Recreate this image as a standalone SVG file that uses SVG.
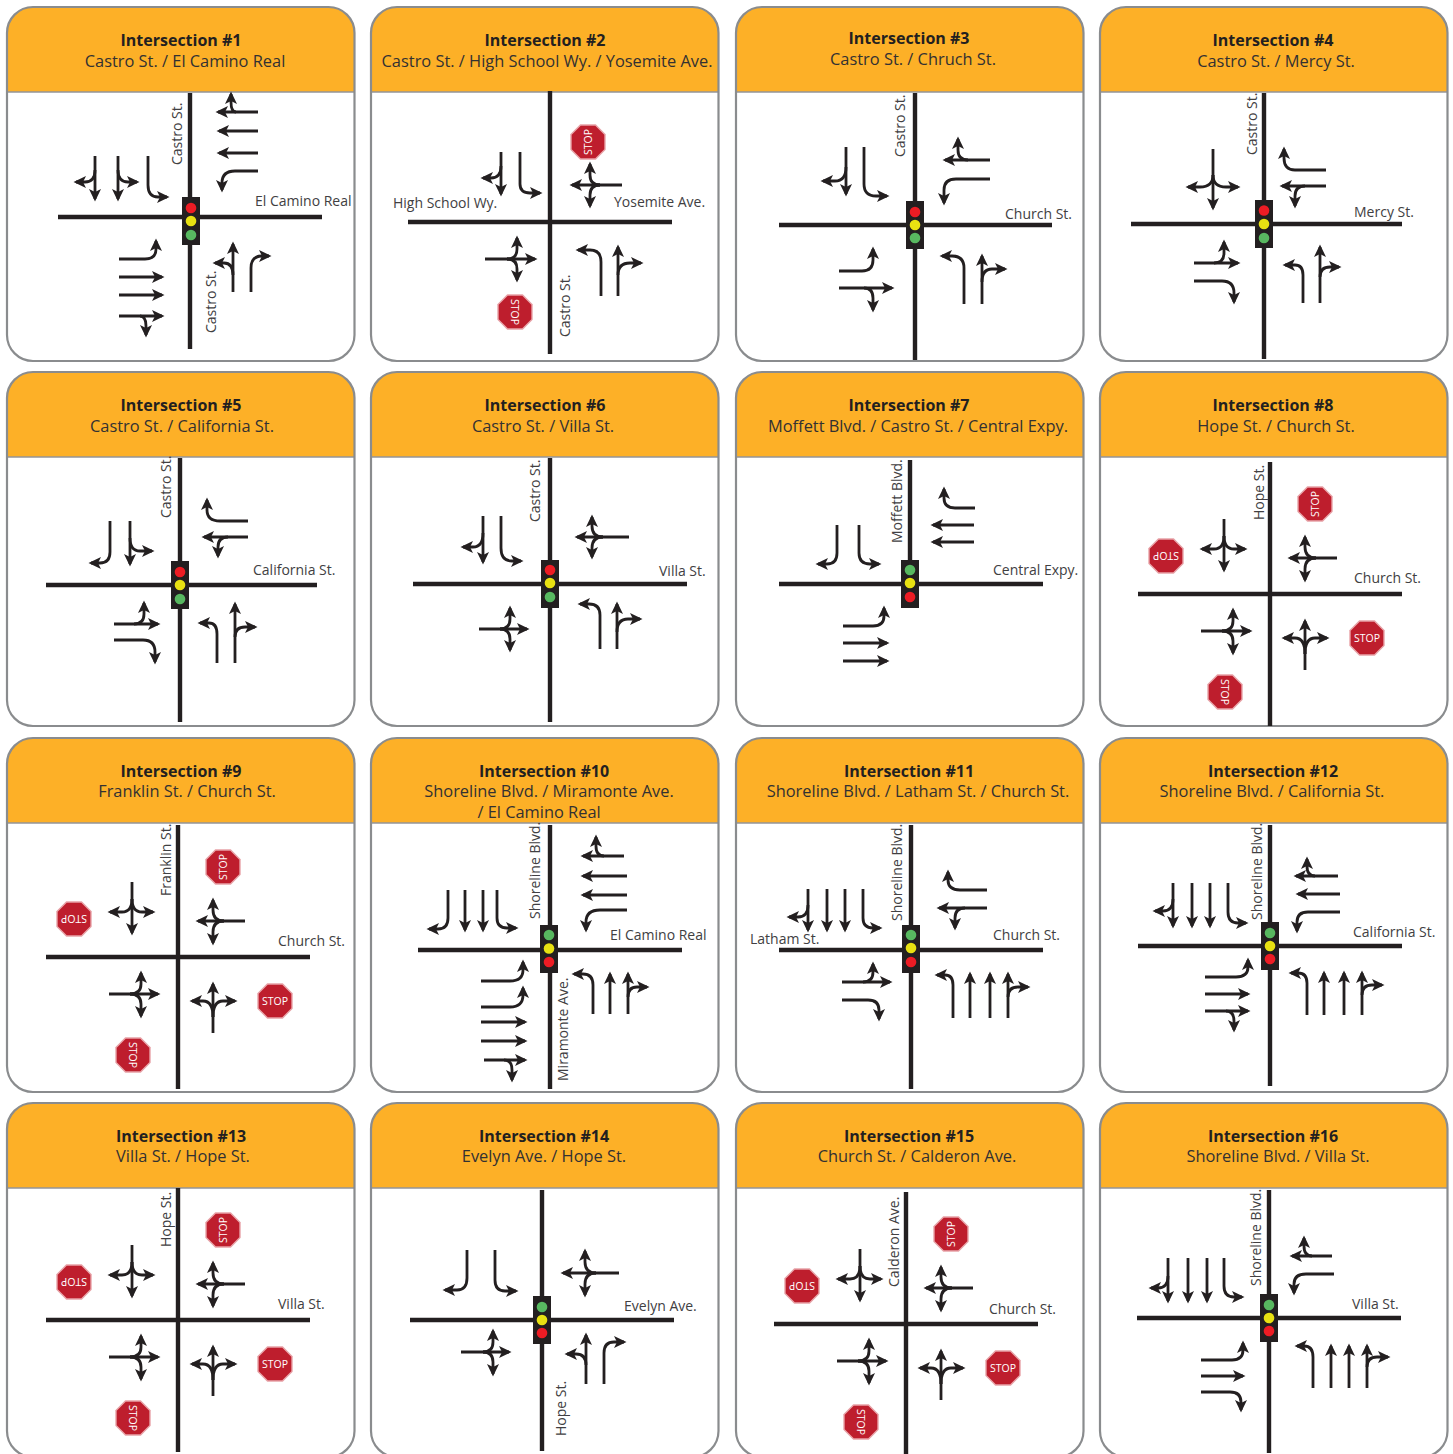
<svg xmlns="http://www.w3.org/2000/svg" width="1453" height="1454" viewBox="0 0 1453 1454">
<style>
text{font-family:"Open Sans","Noto Sans","Liberation Sans",sans-serif}
.t{font-size:16px;font-weight:700;fill:#231f20;text-anchor:middle}
.s{font-size:16.4px;fill:#333132;text-anchor:middle}
.l{font-size:14px;fill:#414042}
.r{stroke:#231f20;stroke-width:4.4;fill:none}
.a{stroke:#231f20;stroke-width:2.8;fill:none;marker-end:url(#h)}
.sg{fill:#231f20}
.R{fill:#ed1c24}.Y{fill:#e8e112}.G{fill:#58b860}
circle{r:5.300px}
.st{font-size:10.5px;fill:#fff;text-anchor:middle}
</style>
<defs>
<marker id="h" markerUnits="userSpaceOnUse" markerWidth="16" markerHeight="16" viewBox="-13 -8 16 16" refX="0" refY="0" orient="auto"><path d="M-10,-6L2.500,0L-10,6L-7,0Z" fill="#231f20"/></marker>
<g id="panel"><rect width="347.500" height="354" rx="26" fill="#fff"/><path d="M0,85V26A26,26 0 0 1 26,0H321.500A26,26 0 0 1 347.500,26V85Z" fill="#fdb027"/><path d="M0,85H347.500" stroke="#939598" stroke-width="1.5"/><rect width="347.500" height="354" rx="26" fill="none" stroke="#8a8c8e" stroke-width="2.2"/></g>
<polygon id="oct" points="-7.5,-17 7.5,-17 17,-7.5 17,7.5 7.5,17 -7.5,17 -17,7.5 -17,-7.5" fill="#be1e2d" stroke="#e8a3a8" stroke-width="1.4"/>
<g id="four">
<path class="r" d="M0,-132V132M-132,0H132"/>
<path class="a" d="M-46,-75V-24"/><path class="a" d="M-46,-58Q-46,-45 -56,-45H-68"/><path class="a" d="M-46,-58Q-46,-45 -36,-45H-25"/>
<path class="a" d="M67,-36H20"/><path class="a" d="M46,-36Q35,-36 35,-47V-57"/><path class="a" d="M46,-36Q35,-36 35,-25V-14"/>
<path class="a" d="M-69,37H-20"/><path class="a" d="M-48,37Q-37,37 -37,27V16"/><path class="a" d="M-48,37Q-37,37 -37,47V59"/>
<path class="a" d="M35,76V27"/><path class="a" d="M35,60Q35,44 25,44H14"/><path class="a" d="M35,60Q35,44 45,44H57"/>
</g>
</defs>

<g id="intersection-1">
<use href="#panel" x="7" y="7"/>
<text class="t" x="181" y="46">Intersection #1</text><text class="s" x="185" y="67">Castro St. / El Camino Real</text>
<path class="r" d="M190,93V349M58,217H322"/>
<rect class="sg" x="182" y="197" width="18" height="48"/><circle class="R" cx="191" cy="208" r="5"/><circle class="Y" cx="191" cy="221" r="5"/><circle class="G" cx="191" cy="235" r="5"/>
<path class="a" d="M95,156V199"/><path class="a" d="M95,170Q95,182 85,182H76"/>
<path class="a" d="M118,156V199"/><path class="a" d="M118,170Q118,182 128,182H137"/>
<path class="a" d="M148,156V185Q148,197 158,197H167"/>
<path class="a" d="M258,112H218"/><path class="a" d="M236,112Q231,112 231,102V94"/>
<path class="a" d="M258,131H219"/><path class="a" d="M258,153H219"/>
<path class="a" d="M258,171H235Q222,171 222,183V190"/>
<path class="a" d="M119,259H145Q156,259 156,249V241"/><path class="a" d="M119,277H162"/><path class="a" d="M119,295H162"/><path class="a" d="M119,316H162"/><path class="a" d="M140,316Q146,316 146,326V335"/>
<path class="a" d="M233,292V244"/><path class="a" d="M233,275Q233,263 224,263H215"/>
<path class="a" d="M251,292V268Q251,256 262,256H269"/>
<text class="l" transform="translate(182,165) rotate(-90)">Castro St.</text><text class="l" transform="translate(216,333) rotate(-90)">Castro St.</text><text class="l" x="255" y="206">El Camino Real</text>
</g>

<g id="intersection-2">
<use href="#panel" x="371" y="7"/>
<text class="t" x="545" y="46">Intersection #2</text><text class="s" x="547" y="67">Castro St. / High School Wy. / Yosemite Ave.</text>
<path class="r" d="M550,91V354M408,222H672"/>
<g transform="translate(588,142) rotate(-90)"><use href="#oct"/><text class="st" y="3.7">STOP</text></g>
<g transform="translate(515,312) rotate(90)"><use href="#oct"/><text class="st" y="3.7">STOP</text></g>
<path class="a" d="M501,152V194"/><path class="a" d="M501,166Q501,178 491,178H483"/>
<path class="a" d="M520,152V184Q520,193 530,193H540"/>
<path class="a" d="M622,185H572"/><path class="a" d="M600,185Q590,185 590,175V164"/><path class="a" d="M600,185Q590,185 590,195V206"/>
<path class="a" d="M485,259H535"/><path class="a" d="M507,259Q517,259 517,249V238"/><path class="a" d="M507,259Q517,259 517,269V280"/>
<path class="a" d="M601,296V262Q601,250 590,250H578"/>
<path class="a" d="M618,296V247"/><path class="a" d="M618,275Q618,263 630,263H641"/>
<text class="l" x="393" y="208">High School Wy.</text><text class="l" x="614" y="207">Yosemite Ave.</text><text class="l" transform="translate(570,337) rotate(-90)">Castro St.</text>
</g>

<g id="intersection-3">
<use href="#panel" x="736" y="7"/>
<text class="t" x="909" y="44">Intersection #3</text><text class="s" x="913" y="65">Castro St. / Chruch St.</text>
<path class="r" d="M915,93V360M779,225H1052"/>
<rect class="sg" x="906" y="201" width="18" height="48"/><circle class="R" cx="915" cy="212" r="5"/><circle class="Y" cx="915" cy="225" r="5"/><circle class="G" cx="915" cy="238" r="5"/>
<path class="a" d="M846,147V194"/><path class="a" d="M846,167Q846,181 835,181H823"/>
<path class="a" d="M864,147V184Q864,196 876,196H887"/>
<path class="a" d="M990,160H945"/><path class="a" d="M968,160Q958,160 958,150V139"/>
<path class="a" d="M990,179H956Q944,179 944,190V203"/>
<path class="a" d="M839,271H862Q873,271 873,260V249"/>
<path class="a" d="M839,288H892"/><path class="a" d="M864,288Q873,288 873,298V310"/>
<path class="a" d="M964,304V268Q964,256 952,256H942"/>
<path class="a" d="M982,304V256"/><path class="a" d="M982,282Q982,269 992,269H1005"/>
<text class="l" transform="translate(905,157) rotate(-90)">Castro St.</text><text class="l" x="1005" y="219">Church St.</text>
</g>

<g id="intersection-4">
<use href="#panel" x="1100" y="7"/>
<text class="t" x="1273" y="46">Intersection #4</text><text class="s" x="1276" y="67">Castro St. / Mercy St.</text>
<path class="r" d="M1264,93V359M1131,224H1402"/>
<rect class="sg" x="1255" y="200" width="18" height="48"/><circle class="R" cx="1264" cy="210.500" r="5"/><circle class="Y" cx="1264" cy="224" r="5"/><circle class="G" cx="1264" cy="238" r="5"/>
<path class="a" d="M1213,149V208"/><path class="a" d="M1213,175Q1213,187 1200,187H1188"/><path class="a" d="M1213,175Q1213,187 1226,187H1238"/>
<path class="a" d="M1326,170H1295Q1284,170 1284,158V149"/>
<path class="a" d="M1326,186H1282"/><path class="a" d="M1305,186Q1295,186 1295,196V206"/>
<path class="a" d="M1194,263H1238"/><path class="a" d="M1214,263Q1224,263 1224,253V242"/>
<path class="a" d="M1194,281H1222Q1234,281 1234,293V302"/>
<path class="a" d="M1303,303V275Q1303,265 1295,265H1285"/>
<path class="a" d="M1320,303V247"/><path class="a" d="M1320,277Q1320,267 1330,267H1339"/>
<text class="l" transform="translate(1257,155) rotate(-90)">Castro St.</text><text class="l" x="1354" y="217">Mercy St.</text>
</g>

<g id="intersection-5">
<use href="#panel" x="7" y="372"/>
<text class="t" x="181" y="411">Intersection #5</text><text class="s" x="182" y="432">Castro St. / California St.</text>
<path class="r" d="M180,458V722M46,585H317"/>
<rect class="sg" x="171" y="561" width="18" height="48"/><circle class="R" cx="180" cy="572" r="5"/><circle class="Y" cx="180" cy="585" r="5"/><circle class="G" cx="180" cy="599" r="5"/>
<path class="a" d="M110,521V552Q110,563 100,563H91"/>
<path class="a" d="M130,521V564"/><path class="a" d="M130,538Q130,551 140,551H152"/>
<path class="a" d="M248,521H220Q207,521 207,510V500"/>
<path class="a" d="M248,537H204"/><path class="a" d="M228,537Q218,537 218,547V556"/>
<path class="a" d="M114,624H158"/><path class="a" d="M134,624Q144,624 144,614V603"/>
<path class="a" d="M114,640H143Q155,640 155,652V662"/>
<path class="a" d="M217,663V634Q217,623 209,623H200"/>
<path class="a" d="M235,663V604"/><path class="a" d="M235,637Q235,627 245,627H255"/>
<text class="l" transform="translate(171,518) rotate(-90)">Castro St.</text><text class="l" x="253" y="575">California St.</text>
</g>

<g id="intersection-6">
<use href="#panel" x="371" y="372"/>
<text class="t" x="545" y="411">Intersection #6</text><text class="s" x="543" y="432">Castro St. / Villa St.</text>
<path class="r" d="M550,458V722M413,584H687"/>
<rect class="sg" x="541" y="560" width="18" height="48"/><circle class="R" cx="550" cy="570" r="5"/><circle class="Y" cx="550" cy="583" r="5"/><circle class="G" cx="550" cy="597" r="5"/>
<path class="a" d="M483,516V562"/><path class="a" d="M483,533Q483,547 473,547H463"/>
<path class="a" d="M501,516V548Q501,561 512,561H521"/>
<path class="a" d="M629,537H577"/><path class="a" d="M603,537Q592,537 592,526V517"/><path class="a" d="M603,537Q592,537 592,548V557"/>
<path class="a" d="M479,629H527"/><path class="a" d="M500,629Q510,629 510,619V608"/><path class="a" d="M500,629Q510,629 510,639V650"/>
<path class="a" d="M600,649V615Q600,604 589,604H580"/>
<path class="a" d="M617,649V604"/><path class="a" d="M617,632Q617,619 628,619H640"/>
<text class="l" transform="translate(540,522) rotate(-90)">Castro St.</text><text class="l" x="659" y="576">Villa St.</text>
</g>

<g id="intersection-7">
<use href="#panel" x="736" y="372"/>
<text class="t" x="909" y="411">Intersection #7</text><text class="s" x="918" y="432">Moffett Blvd. / Castro St. / Central Expy.</text>
<path class="r" d="M910,460V584M779,584H1043"/>
<rect class="sg" x="901" y="560" width="18" height="48"/><circle class="G" cx="910" cy="570" r="5"/><circle class="Y" cx="910" cy="583" r="5"/><circle class="R" cx="910" cy="597" r="5"/>
<path class="a" d="M837,525V553Q837,564 827,564H818"/>
<path class="a" d="M859,525V553Q859,564 870,564H879"/>
<path class="a" d="M975,508H955Q944,508 944,498V489"/>
<path class="a" d="M974,525H933"/><path class="a" d="M974,542H933"/>
<path class="a" d="M843,626H873Q884,626 884,616V608"/><path class="a" d="M843,643H887"/><path class="a" d="M843,661H887"/>
<text class="l" transform="translate(902,543) rotate(-90)">Moffett Blvd.</text><text class="l" x="993" y="575">Central Expy.</text>
</g>

<g id="intersection-8">
<use href="#panel" x="1100" y="372"/>
<text class="t" x="1273" y="411">Intersection #8</text><text class="s" x="1276" y="432">Hope St. / Church St.</text>
<use href="#four" x="1270" y="594"/>
<g transform="translate(1315,504) rotate(-90)"><use href="#oct"/><text class="st" y="3.7">STOP</text></g>
<g transform="translate(1166,556) rotate(180)"><use href="#oct"/><text class="st" y="3.7">STOP</text></g>
<g transform="translate(1367,638)"><use href="#oct"/><text class="st" y="3.7">STOP</text></g>
<g transform="translate(1225,692) rotate(90)"><use href="#oct"/><text class="st" y="3.7">STOP</text></g>
<text class="l" transform="translate(1264,520) rotate(-90)">Hope St.</text><text class="l" x="1354" y="583">Church St.</text>
</g>

<g id="intersection-9">
<use href="#panel" x="7" y="738"/>
<text class="t" x="181" y="777">Intersection #9</text><text class="s" x="187" y="797">Franklin St. / Church St.</text>
<use href="#four" x="178" y="957"/>
<g transform="translate(223,867) rotate(-90)"><use href="#oct"/><text class="st" y="3.7">STOP</text></g>
<g transform="translate(74,919) rotate(180)"><use href="#oct"/><text class="st" y="3.7">STOP</text></g>
<g transform="translate(275,1001)"><use href="#oct"/><text class="st" y="3.7">STOP</text></g>
<g transform="translate(133,1055) rotate(90)"><use href="#oct"/><text class="st" y="3.7">STOP</text></g>
<text class="l" transform="translate(171,896) rotate(-90)">Franklin St.</text><text class="l" x="278" y="946">Church St.</text>
</g>

<g id="intersection-10">
<use href="#panel" x="371" y="738"/>
<text class="t" x="544" y="777">Intersection #10</text><text class="s" x="549" y="797">Shoreline Blvd. / Miramonte Ave.</text><text class="s" x="539" y="818">/ El Camino Real</text>
<path class="r" d="M550,825V1089M418,950H682"/>
<rect class="sg" x="540" y="925" width="18" height="48"/><circle class="G" cx="549" cy="935" r="5"/><circle class="Y" cx="549" cy="948.500" r="5"/><circle class="R" cx="549" cy="962" r="5"/>
<path class="a" d="M448,890V918Q448,929 438,929H429"/><path class="a" d="M465,890V930"/><path class="a" d="M483,890V930"/><path class="a" d="M497,890V918Q497,928 507,928H516"/>
<path class="a" d="M624,856H583"/><path class="a" d="M604,856Q596,856 596,846V837"/><path class="a" d="M627,876H583"/><path class="a" d="M627,895H583"/><path class="a" d="M627,910H600Q586,910 586,922V930"/>
<path class="a" d="M481,981H510Q523,981 523,970V962"/><path class="a" d="M481,1007H510Q523,1007 523,995V988"/><path class="a" d="M481,1022H525"/><path class="a" d="M481,1041H525"/><path class="a" d="M484,1060H525"/><path class="a" d="M504,1060Q512,1060 512,1070V1080"/>
<path class="a" d="M593,1014V985Q593,974 583,974H574"/><path class="a" d="M610,1014V974"/><path class="a" d="M628,1014V974"/><path class="a" d="M628,997Q628,987 637,987H647"/>
<text class="l" transform="translate(540,919) rotate(-90)">Shoreline Blvd.</text><text class="l" x="610" y="940">El Camino Real</text><text class="l" transform="translate(568,1081) rotate(-90)">Miramonte Ave.</text>
</g>

<g id="intersection-11">
<use href="#panel" x="736" y="738"/>
<text class="t" x="909" y="777">Intersection #11</text><text class="s" x="918" y="797">Shoreline Blvd. / Latham St. / Church St.</text>
<path class="r" d="M911,825V1089M779,950H1043"/>
<rect class="sg" x="902" y="925" width="18" height="48"/><circle class="G" cx="911" cy="935" r="5"/><circle class="Y" cx="911" cy="948" r="5"/><circle class="R" cx="911" cy="962" r="5"/>
<path class="a" d="M808,889V930"/><path class="a" d="M808,905Q808,917 798,917H789"/><path class="a" d="M827,889V930"/><path class="a" d="M845,889V930"/><path class="a" d="M863,889V918Q863,928 873,928H880"/>
<path class="a" d="M987,890H960Q948,890 948,880V872"/><path class="a" d="M987,908H939"/><path class="a" d="M965,908Q955,908 955,918V928"/>
<path class="a" d="M842,982H890"/><path class="a" d="M863,982Q873,982 873,972V964"/><path class="a" d="M842,1000H868Q879,1000 879,1010V1019"/>
<path class="a" d="M953,1018V985Q953,975 945,975H937"/><path class="a" d="M970,1018V974"/><path class="a" d="M990,1018V974"/><path class="a" d="M1008,1018V974"/><path class="a" d="M1008,997Q1008,987 1018,987H1028"/>
<text class="l" transform="translate(902,921) rotate(-90)">Shoreline Blvd.</text><text class="l" x="750" y="944">Latham St.</text><text class="l" x="993" y="940">Church St.</text>
</g>

<g id="intersection-12">
<use href="#panel" x="1100" y="738"/>
<text class="t" x="1273" y="777">Intersection #12</text><text class="s" x="1272" y="797">Shoreline Blvd. / California St.</text>
<path class="r" d="M1270,825V1086M1138,946H1402"/>
<rect class="sg" x="1261" y="922" width="18" height="48"/><circle class="G" cx="1270" cy="933" r="5"/><circle class="Y" cx="1270" cy="946" r="5"/><circle class="R" cx="1270" cy="959" r="5"/>
<path class="a" d="M1173,883V926"/><path class="a" d="M1173,899Q1173,911 1163,911H1155"/><path class="a" d="M1192,883V926"/><path class="a" d="M1210,883V926"/><path class="a" d="M1228,883V912Q1228,923 1238,923H1246"/>
<path class="a" d="M1338,876H1296"/><path class="a" d="M1315,876Q1307,876 1307,866V859"/><path class="a" d="M1340,894H1298"/><path class="a" d="M1340,912H1308Q1297,912 1297,922V931"/>
<path class="a" d="M1205,977H1236Q1248,977 1248,967V960"/><path class="a" d="M1205,994H1248"/><path class="a" d="M1205,1011H1248"/><path class="a" d="M1226,1011Q1234,1011 1234,1021V1030"/>
<path class="a" d="M1307,1015V983Q1307,973 1298,973H1291"/><path class="a" d="M1324,1015V973"/><path class="a" d="M1344,1015V973"/><path class="a" d="M1362,1015V973"/><path class="a" d="M1362,995Q1362,985 1372,985H1382"/>
<text class="l" transform="translate(1262,920) rotate(-90)">Shoreline Blvd.</text><text class="l" x="1353" y="937">California St.</text>
</g>

<g id="intersection-13">
<use href="#panel" x="7" y="1103"/>
<text class="t" x="181" y="1142">Intersection #13</text><text class="s" x="183" y="1162">Villa St. / Hope St.</text>
<use href="#four" x="178" y="1320"/>
<g transform="translate(223,1230) rotate(-90)"><use href="#oct"/><text class="st" y="3.7">STOP</text></g>
<g transform="translate(74,1282) rotate(180)"><use href="#oct"/><text class="st" y="3.7">STOP</text></g>
<g transform="translate(275,1364)"><use href="#oct"/><text class="st" y="3.7">STOP</text></g>
<g transform="translate(133,1418) rotate(90)"><use href="#oct"/><text class="st" y="3.7">STOP</text></g>
<text class="l" transform="translate(171,1247) rotate(-90)">Hope St.</text><text class="l" x="278" y="1309">Villa St.</text>
</g>

<g id="intersection-14">
<use href="#panel" x="371" y="1103"/>
<text class="t" x="544" y="1142">Intersection #14</text><text class="s" x="544" y="1162">Evelyn Ave. / Hope St.</text>
<path class="r" d="M542,1190V1451M410,1320H674"/>
<rect class="sg" x="533" y="1296" width="18" height="48"/><circle class="G" cx="542" cy="1307" r="5"/><circle class="Y" cx="542" cy="1320" r="5"/><circle class="R" cx="542" cy="1333" r="5"/>
<path class="a" d="M467,1250V1278Q467,1290 457,1290H445"/><path class="a" d="M495,1250V1280Q495,1291 505,1291H516"/>
<path class="a" d="M619,1273H563"/><path class="a" d="M596,1273Q585,1273 585,1262V1251"/><path class="a" d="M596,1273Q585,1273 585,1284V1295"/>
<path class="a" d="M461,1352H509"/><path class="a" d="M483,1352Q493,1352 493,1342V1331"/><path class="a" d="M483,1352Q493,1352 493,1362V1374"/>
<path class="a" d="M586,1384V1335"/><path class="a" d="M586,1365Q586,1354 576,1354H567"/><path class="a" d="M604,1384V1353Q604,1342 614,1342H624"/>
<text class="l" x="624" y="1311">Evelyn Ave.</text><text class="l" transform="translate(566,1436) rotate(-90)">Hope St.</text>
</g>

<g id="intersection-15">
<use href="#panel" x="736" y="1103"/>
<text class="t" x="909" y="1142">Intersection #15</text><text class="s" x="917" y="1162">Church St. / Calderon Ave.</text>
<use href="#four" x="906" y="1324"/>
<g transform="translate(951,1234) rotate(-90)"><use href="#oct"/><text class="st" y="3.7">STOP</text></g>
<g transform="translate(802,1286) rotate(180)"><use href="#oct"/><text class="st" y="3.7">STOP</text></g>
<g transform="translate(1003,1368)"><use href="#oct"/><text class="st" y="3.7">STOP</text></g>
<g transform="translate(861,1422) rotate(90)"><use href="#oct"/><text class="st" y="3.7">STOP</text></g>
<text class="l" transform="translate(899,1287) rotate(-90)">Calderon Ave.</text><text class="l" x="989" y="1314">Church St.</text>
</g>

<g id="intersection-16">
<use href="#panel" x="1100" y="1103"/>
<text class="t" x="1273" y="1142">Intersection #16</text><text class="s" x="1278" y="1162">Shoreline Blvd. / Villa St.</text>
<path class="r" d="M1269,1190V1453M1137,1318H1401"/>
<rect class="sg" x="1260" y="1294" width="18" height="48"/><circle class="G" cx="1269" cy="1305" r="5"/><circle class="Y" cx="1269" cy="1318" r="5"/><circle class="R" cx="1269" cy="1331" r="5"/>
<path class="a" d="M1168,1258V1301"/><path class="a" d="M1168,1276Q1168,1288 1158,1288H1151"/><path class="a" d="M1188,1258V1301"/><path class="a" d="M1207,1258V1301"/><path class="a" d="M1224,1258V1286Q1224,1297 1234,1297H1242"/>
<path class="a" d="M1332,1256H1292"/><path class="a" d="M1312,1256Q1304,1256 1304,1246V1238"/><path class="a" d="M1334,1274H1306Q1294,1274 1294,1284V1293"/>
<path class="a" d="M1201,1360H1232Q1243,1360 1243,1350V1343"/><path class="a" d="M1201,1376H1243"/><path class="a" d="M1201,1392H1230Q1241,1392 1241,1402V1410"/>
<path class="a" d="M1313,1388V1357Q1313,1346 1304,1346H1297"/><path class="a" d="M1331,1388V1346"/><path class="a" d="M1349,1388V1346"/><path class="a" d="M1367,1388V1346"/><path class="a" d="M1367,1367Q1367,1357 1377,1357H1388"/>
<text class="l" transform="translate(1261,1286) rotate(-90)">Shoreline Blvd.</text><text class="l" x="1352" y="1309">Villa St.</text>
</g>
</svg>
